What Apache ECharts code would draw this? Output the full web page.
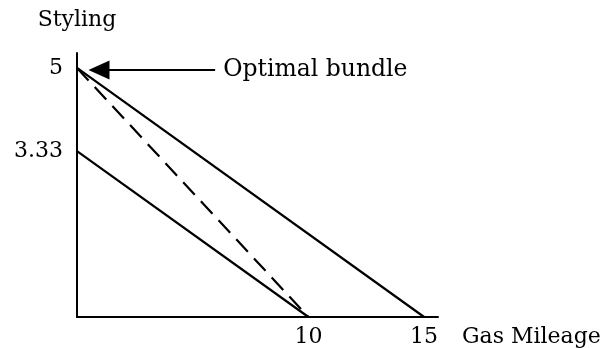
<!DOCTYPE html>
<html><head><meta charset="utf-8">
<script src="https://cdn.jsdelivr.net/npm/echarts@6/dist/echarts.min.js"></script>
<style>html,body{margin:0;padding:0;background:#fff}#c{width:615px;height:348px}</style>
</head><body><div id="c"></div>
<script>
// Data
const budgetHigh = [[0, 5], [15, 0]];      // outer budget line
const budgetLow = [[0, 3.33], [10, 0]];    // inner budget line
const dashedLine = [[0, 5], [10, 0]];      // rotated (dashed) line
const xTicks = [10, 15];
const yTicks = [3.33, 5];
const arrowFrom = [5.97, 4.96];
const arrowTo = [0.95, 4.96];
const annotation = 'Optimal bundle';

const FONT = 'DejaVu Serif';
const FS = 22;
const chart = echarts.init(document.getElementById('c'), null, {renderer: 'canvas'});
chart.setOption({
  animation: false,
  backgroundColor: '#fff',
  grid: {left: 77, right: 177, top: 53, bottom: 31},
  xAxis: {
    type: 'value', min: 0, max: 15.6,
    name: 'Gas Mileage', nameLocation: 'end', nameGap: 24,
    nameTextStyle: {fontFamily: FONT, fontSize: FS, color: '#000', verticalAlign: 'top', align: 'left', padding: [9, 0, 0, 0]},
    axisLine: {onZero: false, lineStyle: {color: '#000', width: 2}},
    axisTick: {show: false},
    splitLine: {show: false},
    axisLabel: {customValues: xTicks, fontFamily: FONT, fontSize: FS, color: '#000', margin: 9, formatter: v => String(v)}
  },
  yAxis: {
    type: 'value', min: 0, max: 5.3,
    name: 'Styling', nameLocation: 'end', nameGap: 22,
    nameTextStyle: {fontFamily: FONT, fontSize: FS, color: '#000'},
    axisLine: {onZero: false, lineStyle: {color: '#000', width: 2}},
    axisTick: {show: false},
    splitLine: {show: false},
    axisLabel: {customValues: yTicks, fontFamily: FONT, fontSize: FS, color: '#000', margin: 14, formatter: v => String(v)}
  },
  series: [
    {type: 'line', data: budgetHigh, symbol: 'none', lineStyle: {color: '#000', width: 2.2}},
    {type: 'line', data: budgetLow, symbol: 'none', lineStyle: {color: '#000', width: 2.2}},
    {type: 'line', data: dashedLine, symbol: 'none', lineStyle: {color: '#000', width: 2.2, type: [17, 9]},
     markLine: {
       silent: true, symbol: ['none', 'triangle'], symbolSize: [19, 21],
       lineStyle: {color: '#000', width: 2.2, type: 'solid'},
       label: {show: true, position: 'start', formatter: annotation, fontFamily: FONT, fontSize: 23.5, color: '#000', distance: 8},
       data: [[{coord: arrowFrom}, {coord: arrowTo}]]
     }}
  ]
});
</script></body></html>
